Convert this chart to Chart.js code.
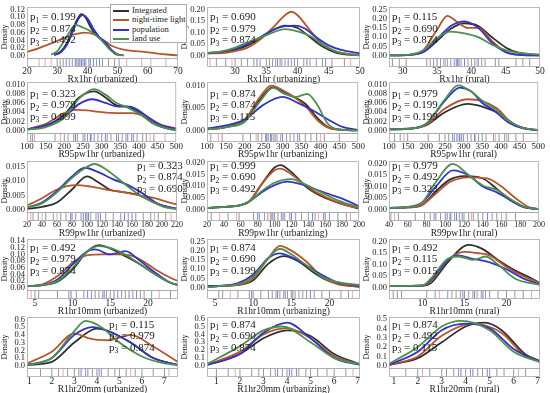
<!DOCTYPE html>
<html><head><meta charset="utf-8">
<script src="https://cdn.jsdelivr.net/npm/chart.js@4.4.1/dist/chart.umd.min.js"></script>
<style>
html,body{margin:0;padding:0;background:#fff;overflow:hidden;width:550px;height:393px;}
#wrap{position:relative;width:550px;height:393px;overflow:hidden;}
#wrap canvas{position:absolute;}
#legend{position:absolute;left:110px;top:4px;width:77px;height:39px;border:1px solid #aaa;background:#fff;z-index:10;font-family:"Liberation Serif",serif;font-size:8.6px;color:#222;box-sizing:border-box;}
#legend .it{position:absolute;left:2px;height:9px;line-height:9px;white-space:nowrap;}
#legend .ln{display:inline-block;width:16px;height:0;border-top:2px solid #000;vertical-align:middle;margin-right:3px;}
</style></head><body><div id="wrap"><div id="legend"></div></div>
<script>
// ---------- series / legend ----------
const SERIES = ['Integrated','night-time light','population','land use'];
const COLORS = ['#2f2f2f','#b4562f','#3434c4','#4f8f4f'];
const RUG_COLORS = ['rgba(105,105,120,0.7)','rgba(70,90,200,0.75)','rgba(235,130,150,0.75)'];

// ---------- axis titles ----------
const xTitles = [
 'Rx1hr (urbanized)','Rx1hr (urbanizing)','Rx1hr (rural)',
 'R95pw1hr (urbanized)','R95pw1hr (urbanizing)','R95pw1hr (rural)',
 'R99pw1hr (urbanized)','R99pw1hr (urbanizing)','R99pw1hr (rural)',
 'R1hr10mm (urbanized)','R1hr10mm (urbanizing)','R1hr10mm (rural)',
 'R1hr20mm (urbanized)','R1hr20mm (urbanizing)','R1hr20mm (rural)'];
// ---------- p values ----------
const pValues = [
 ['0.199','0.874','0.492'],['0.690','0.979','0.874'],['0.115','0.690','0.874'],
 ['0.323','0.979','0.999'],['0.874','0.874','0.115'],['0.979','0.199','0.199'],
 ['0.323','0.874','0.690'],['0.999','0.690','0.492'],['0.979','0.492','0.323'],
 ['0.492','0.979','0.874'],['0.874','0.690','0.199'],['0.492','0.115','0.015'],
 ['0.115','0.979','0.874'],['0.874','0.690','0.874'],['0.874','0.492','0.115']];
// ---------- x ranges / tick steps ----------
const xRanges = [[20,70],[25.5,50],[28,50],[100,500],[100,500],[100,500],[20,220],[20,200],[40,200],[3.95,24],[3.95,24],[6,24],[0.9,7.6],[0.6,7.1],[0.8,7.1]];
const xSteps  = [10,5,5,50,50,50,20,20,20,5,5,5,1,1,1];
// ---------- y tick ranges ----------
const yMaxes  = [0.126,0.21,0.262,0.0105,0.0108,0.0105,0.0168,0.0207,0.021,0.146,0.262,0.21,0.63,0.62,0.52];
const ySteps  = [0.02,0.05,0.05,0.002,0.005,0.002,0.005,0.005,0.005,0.02,0.05,0.05,0.1,0.1,0.1];
const yDec    = [2,2,2,3,3,3,3,3,3,2,2,2,1,1,1];

// ---------- density curves [x, density] ----------
// Rx1hr urbanized
const d11_int=[[29,0.002],[31,0.01],[33,0.03],[35,0.065],[36.5,0.092],[38,0.108],[39.5,0.098],[41,0.075],[43,0.052],[45,0.04],[47,0.022],[49,0.006],[51,0.001]];
const d11_ntl=[[20,0.01],[24,0.02],[28,0.032],[32,0.045],[36,0.056],[39,0.06],[42,0.056],[45,0.042],[48,0.026],[52,0.016],[56,0.012],[60,0.009],[65,0.004],[70,0.001]];
const d11_pop=[[29,0.002],[31,0.008],[33,0.025],[35,0.06],[37,0.095],[38.5,0.105],[40,0.097],[42,0.07],[44,0.048],[46,0.035],[48,0.015],[50,0.004],[52,0.001]];
const d11_lu =[[28,0.003],[30,0.012],[32,0.035],[34,0.06],[36,0.08],[38,0.075],[40,0.068],[42,0.058],[44,0.045],[46,0.028],[48,0.012],[50,0.003],[52,0.001]];
// Rx1hr urbanizing
const d12_int=[[25.5,0.01],[28,0.015],[30,0.025],[32,0.045],[34,0.075],[36,0.11],[38,0.13],[40,0.12],[42,0.08],[44,0.04],[46,0.015],[48,0.005],[50,0.002]];
const d12_ntl=[[25.5,0.01],[28,0.012],[30,0.02],[32,0.035],[34,0.07],[36,0.12],[38,0.175],[39,0.19],[40,0.175],[42,0.11],[44,0.05],[46,0.02],[48,0.008],[50,0.003]];
const d12_pop=[[25.5,0.012],[28,0.018],[30,0.03],[32,0.05],[34,0.08],[36,0.11],[38,0.128],[39.5,0.13],[41,0.12],[43,0.08],[45,0.045],[47,0.025],[50,0.01]];
const d12_lu =[[25.5,0.012],[28,0.02],[30,0.035],[32,0.058],[34,0.078],[36,0.1],[38,0.115],[40,0.105],[42,0.085],[44,0.05],[46,0.02],[48,0.008],[50,0.003]];
// Rx1hr rural
const d13_int=[[28,0.002],[31,0.005],[33,0.02],[35,0.08],[37,0.145],[39,0.175],[41,0.16],[43,0.1],[45,0.045],[47,0.015],[50,0.003]];
const d13_ntl=[[28,0.002],[31,0.005],[33,0.03],[35,0.14],[36.5,0.215],[38,0.18],[39.5,0.15],[41,0.15],[43,0.08],[45,0.02],[47,0.005],[50,0.001]];
const d13_pop=[[28,0.002],[31,0.005],[33,0.02],[35,0.09],[37,0.16],[39,0.185],[41,0.15],[43,0.07],[45,0.02],[47,0.005],[50,0.002]];
const d13_lu =[[28,0.003],[31,0.006],[33,0.03],[35,0.095],[37,0.13],[39,0.12],[41,0.1],[43,0.06],[45,0.03],[47,0.015],[50,0.006]];
// R95pw1hr urbanized
const d21_int=[[100,0.0003],[150,0.001],[200,0.0035],[240,0.0072],[280,0.0085],[310,0.0072],[340,0.0055],[370,0.0052],[400,0.004],[440,0.0015],[480,0.0004],[500,0.0002]];
const d21_ntl=[[100,0.0003],[150,0.0015],[200,0.0038],[230,0.0045],[260,0.0044],[300,0.004],[340,0.0038],[380,0.0038],[420,0.003],[460,0.0013],[500,0.0005]];
const d21_pop=[[100,0.0003],[150,0.0012],[200,0.003],[240,0.0058],[275,0.0068],[310,0.006],[345,0.0052],[375,0.0052],[410,0.0038],[450,0.0015],[500,0.0004]];
const d21_lu =[[100,0.0002],[150,0.0008],[200,0.0028],[240,0.007],[280,0.009],[310,0.0078],[340,0.006],[370,0.005],[400,0.0037],[440,0.0015],[480,0.0004],[500,0.0002]];
// R95pw1hr urbanizing
const d22_int=[[100,0.0003],[150,0.0008],[200,0.0025],[240,0.007],[275,0.0097],[300,0.0088],[330,0.0075],[360,0.006],[390,0.003],[420,0.0008],[460,0.0002],[500,0.0001]];
const d22_ntl=[[100,0.0003],[150,0.0008],[200,0.0025],[240,0.0075],[270,0.01],[300,0.009],[330,0.0075],[360,0.0055],[390,0.0025],[420,0.0007],[460,0.0002],[500,0.0001]];
const d22_pop=[[100,0.0005],[150,0.0012],[200,0.0025],[250,0.0058],[300,0.0075],[340,0.0062],[380,0.0045],[420,0.0025],[460,0.0008],[500,0.0002]];
const d22_lu =[[100,0.0003],[150,0.0008],[200,0.002],[240,0.0065],[275,0.0095],[305,0.0082],[335,0.0075],[365,0.0082],[390,0.006],[420,0.0015],[460,0.0002],[500,0.0001]];
// R95pw1hr rural
const d23_int=[[100,0.0003],[150,0.0004],[200,0.0012],[250,0.004],[310,0.0058],[350,0.0052],[400,0.0035],[440,0.0012],[480,0.0003],[500,0.0001]];
const d23_ntl=[[100,0.0003],[150,0.0005],[200,0.0013],[250,0.0048],[310,0.0068],[350,0.0064],[390,0.0048],[430,0.0016],[470,0.0004],[500,0.0001]];
const d23_pop=[[100,0.0003],[150,0.0004],[200,0.0015],[250,0.0065],[290,0.0093],[320,0.0085],[350,0.006],[380,0.0045],[420,0.0018],[460,0.0005],[500,0.0002]];
const d23_lu =[[100,0.0003],[150,0.0004],[200,0.0015],[250,0.0068],[285,0.0098],[320,0.0085],[350,0.0065],[380,0.005],[420,0.0022],[460,0.0006],[500,0.0002]];
// R99pw1hr urbanized
const d31_int=[[20,0.0003],[40,0.001],[60,0.0025],[80,0.007],[100,0.0115],[115,0.0095],[130,0.007],[150,0.006],[170,0.005],[190,0.0025],[210,0.0008],[220,0.0004]];
const d31_ntl=[[20,0.0015],[40,0.004],[60,0.007],[85,0.0085],[105,0.008],[130,0.0068],[150,0.006],[170,0.005],[190,0.004],[210,0.0025],[220,0.0018]];
const d31_pop=[[20,0.0008],[40,0.0025],[60,0.0065],[80,0.0115],[97,0.0145],[115,0.013],[135,0.0105],[155,0.0085],[175,0.0055],[195,0.002],[220,0.0004]];
const d31_lu =[[20,0.0008],[40,0.0022],[60,0.006],[80,0.011],[95,0.014],[110,0.0158],[125,0.014],[145,0.01],[165,0.006],[185,0.003],[205,0.0008],[220,0.0003]];
// R99pw1hr urbanizing
const d32_int=[[20,0.0008],[40,0.0012],[60,0.002],[70,0.0035],[85,0.011],[100,0.018],[107,0.019],[120,0.016],[140,0.009],[160,0.005],[180,0.0025],[200,0.0005]];
const d32_ntl=[[20,0.0008],[40,0.0012],[60,0.002],[70,0.0035],[85,0.011],[100,0.0168],[107,0.0175],[120,0.015],[140,0.0095],[160,0.0055],[180,0.0025],[200,0.0006]];
const d32_pop=[[20,0.0008],[40,0.0012],[60,0.002],[70,0.0035],[85,0.0075],[100,0.0105],[115,0.012],[130,0.011],[150,0.0085],[170,0.006],[185,0.004],[200,0.0015]];
const d32_lu =[[20,0.0008],[40,0.0012],[60,0.002],[70,0.0035],[85,0.008],[100,0.0115],[120,0.013],[135,0.011],[155,0.0075],[175,0.004],[200,0.001]];
// R99pw1hr rural
const d33_int=[[40,0.0008],[60,0.001],[75,0.002],[90,0.008],[105,0.013],[120,0.0145],[140,0.0135],[155,0.009],[170,0.004],[185,0.001],[200,0.0003]];
const d33_ntl=[[40,0.0008],[60,0.001],[75,0.002],[90,0.007],[105,0.012],[125,0.014],[145,0.0135],[160,0.01],[175,0.005],[190,0.001],[200,0.0003]];
const d33_pop=[[40,0.0008],[60,0.0012],[75,0.003],[90,0.01],[108,0.017],[125,0.0148],[140,0.01],[155,0.0075],[170,0.004],[185,0.001],[200,0.0003]];
const d33_lu =[[40,0.0008],[60,0.0012],[75,0.003],[90,0.012],[108,0.0198],[125,0.015],[140,0.0105],[155,0.0085],[170,0.0045],[185,0.0012],[200,0.0003]];
// R1hr10mm urbanized
const d41_int=[[4,0.005],[6,0.008],[8,0.018],[10,0.055],[12,0.11],[13.5,0.128],[15,0.118],[17,0.095],[19,0.07],[21,0.04],[23,0.015],[24,0.008]];
const d41_ntl=[[4,0.005],[6,0.01],[8,0.035],[10,0.075],[12,0.098],[14,0.1],[16,0.1],[17.5,0.098],[19,0.085],[21,0.055],[23,0.03],[24,0.02]];
const d41_pop=[[4,0.005],[6,0.008],[8,0.025],[10,0.07],[12,0.11],[13,0.115],[15,0.1],[17,0.11],[19,0.08],[21,0.045],[23,0.015],[24,0.008]];
const d41_lu =[[4,0.005],[6,0.008],[8,0.02],[10,0.06],[12,0.11],[13.5,0.125],[15,0.12],[17,0.1],[19,0.07],[21,0.04],[23,0.015],[24,0.008]];
// R1hr10mm urbanizing
const d42_int=[[4,0.005],[6,0.01],[8,0.015],[10,0.04],[12,0.13],[14,0.17],[16,0.14],[18,0.08],[20,0.035],[22,0.015],[24,0.005]];
const d42_ntl=[[4,0.005],[6,0.01],[8,0.015],[10,0.05],[12,0.16],[13.5,0.225],[15,0.2],[17,0.14],[19,0.06],[21,0.02],[24,0.005]];
const d42_pop=[[4,0.01],[6,0.012],[8,0.025],[10,0.07],[12,0.16],[13.5,0.185],[15,0.165],[17,0.12],[19,0.07],[21,0.03],[24,0.008]];
const d42_lu =[[4,0.005],[6,0.01],[8,0.02],[10,0.06],[12,0.16],[13.5,0.21],[15,0.18],[17,0.12],[19,0.06],[21,0.03],[24,0.015]];
// R1hr10mm rural
const d43_int=[[6,0.008],[8,0.008],[10,0.008],[11,0.02],[13,0.11],[15.5,0.185],[17,0.17],[19,0.12],[21,0.075],[23,0.04],[24,0.02]];
const d43_ntl=[[6,0.008],[8,0.008],[10,0.01],[11,0.03],[13,0.12],[15,0.155],[16.5,0.15],[18,0.14],[20,0.09],[22,0.05],[24,0.02]];
const d43_pop=[[6,0.008],[8,0.008],[10,0.01],[11,0.035],[13,0.12],[14.2,0.14],[16,0.125],[18,0.11],[20,0.08],[22,0.04],[24,0.015]];
const d43_lu =[[6,0.008],[8,0.008],[10,0.01],[11,0.04],[13,0.125],[14.3,0.135],[16,0.12],[17.5,0.135],[19,0.1],[21,0.04],[24,0.012]];
// R1hr20mm urbanized
const d51_int=[[0.9,0.01],[2,0.05],[3,0.3],[4,0.48],[4.5,0.45],[5.5,0.3],[6.5,0.1],[7.6,0.01]];
const d51_ntl=[[0.9,0.03],[2,0.18],[3,0.42],[3.7,0.35],[4.5,0.33],[5.5,0.4],[6.5,0.25],[7.6,0.05]];
const d51_pop=[[0.9,0.01],[2,0.1],[3,0.4],[3.8,0.5],[4.5,0.45],[5.5,0.3],[6.5,0.1],[7.6,0.01]];
const d51_lu =[[0.9,0.01],[2,0.1],[3,0.45],[3.5,0.58],[4.2,0.5],[5,0.3],[6,0.12],[7,0.03],[7.6,0.01]];
// R1hr20mm urbanizing
const d52_int=[[0.6,0.01],[2,0.15],[3,0.35],[4,0.45],[5,0.38],[6,0.15],[7.1,0.02]];
const d52_ntl=[[0.6,0.01],[2,0.18],[3,0.4],[4,0.48],[5,0.35],[6,0.12],[7.1,0.02]];
const d52_pop=[[0.6,0.01],[2,0.15],[3,0.42],[4,0.55],[5,0.35],[6,0.1],[7.1,0.01]];
const d52_lu =[[0.6,0.02],[2,0.25],[3,0.45],[3.8,0.5],[5,0.3],[6,0.1],[7.1,0.02]];
// R1hr20mm rural
const d53_int=[[0.8,0.01],[2,0.08],[3,0.25],[4,0.42],[4.8,0.46],[5.5,0.38],[6.5,0.12],[7.1,0.05]];
const d53_ntl=[[0.8,0.01],[2,0.1],[3,0.32],[4.3,0.45],[5.5,0.35],[6.5,0.1],[7.1,0.04]];
const d53_pop=[[0.8,0.01],[2,0.15],[3,0.38],[4,0.45],[5,0.4],[6,0.18],[7.1,0.04]];
const d53_lu =[[0.8,0.02],[2,0.2],[3,0.42],[3.8,0.48],[5,0.38],[6,0.15],[7.1,0.04]];

// ---------- rug observations (gray / blue / pink ticks) ----------
const r11_g=[30,31,32,34,35,36.5,37,38.5,39.5,41,43,45,47,49,50.5], r11_b=[33,36,37.5,38,39,40.5,42,44], r11_p=[24,26,28,53,58,61,66];
const r12_g=[27,28.5,30,31,32,33,34,35,35.5,36,36.5,37.5,38,39,40,41,42,43,44,45.5,47.5], r12_b=[33.5,36.8,37.2,38.5,39.5,41.5,44.5], r12_p=[26,29.5,48.5];
const r13_g=[28.5,29.5,30.5,33.5,34,34.5,35.5,36,36.5,37,37.5,38.5,39.5,40,40.5,41.5,42,43.5,44,46.5,47.5,48.5], r13_b=[35,37.8,38,38.2,39,41], r13_p=[36.2,40.8];
const r21_g=[110,115,175,200,210,225,235,250,262,272,290,300,315,325,340,355,365,380,395,410,420,440], r21_b=[230,255,270,280,310,345,370,385], r21_p=[120,190,430,470];
const r22_g=[110,140,195,215,235,245,255,262,268,275,285,295,310,320,330,345,360,375,390,410,450], r22_b=[258,270,280,300,340], r22_p=[130,230,400];
const r23_g=[115,130,150,205,235,250,260,270,290,300,310,320,330,340,350,360,380,395,410,420,440,460], r23_b=[275,282,288,295,330], r23_p=[140,385,415];
const r31_g=[28,35,45,55,65,72,78,85,92,98,105,112,118,125,135,145,155,165,175,185,195,205], r31_b=[80,95,100,102,115,150,160], r31_p=[25,40,60,190,212];
const r32_g=[25,45,58,75,82,88,92,96,100,104,108,112,118,125,132,140,148,158,165,175,185], r32_b=[80,98,110,120,145,160], r32_p=[35,55,95,152,190];
const r33_g=[42,50,68,78,84,88,95,100,105,110,115,120,125,130,135,140,150,155,165,175], r33_b=[90,102,106,112,118,145], r33_p=[46,128,160];
const r41_g=[5,5.5,8,9.5,10.5,11.5,12.5,13,13.5,14,14.5,15,16,16.5,17,18,19,19.5,20.5,23], r41_b=[9.8,12,14.2,15.5,17.5,18.5], r41_p=[4.5,21.5];
const r42_g=[5.5,6,8,9.5,10,11,12,12.5,13,13.5,14,14.5,15,15.5,16,16.5,17,18,19,20,21.5,22.5], r42_b=[9.8,13.2,14.2,15.2,17.5], r42_p=[7,23];
const r43_g=[6.5,7,7.5,10.5,11.5,13,13.5,14,14.5,15,15.5,16,16.5,17,17.5,18,19,20,21,22], r43_b=[14.8,16.2,17.2], r43_p=[12,23];
const r51_g=[1.5,2,2.3,2.7,3,3.2,3.5,3.8,4,4.2,4.5,4.8,5,5.3,5.7,6,6.5,7], r51_b=[3.3,3.6,4.1], r51_p=[2.5,5.5,7.2];
const r52_g=[1,1.5,2,2.5,2.8,3,3.3,3.5,3.8,4,4.2,4.5,4.8,5,5.3,5.7,6,6.5], r52_b=[3.6,4.1,4.4], r52_p=[1.8,6.8];
const r53_g=[1.5,2,2.5,3,3.2,3.5,3.7,4,4.2,4.5,4.7,5,5.3,5.6,6,6.5], r53_b=[3.8,4.3,4.9], r53_p=[2.2,6.2];

const curveSets=[
 [d11_int,d11_ntl,d11_pop,d11_lu],[d12_int,d12_ntl,d12_pop,d12_lu],[d13_int,d13_ntl,d13_pop,d13_lu],
 [d21_int,d21_ntl,d21_pop,d21_lu],[d22_int,d22_ntl,d22_pop,d22_lu],[d23_int,d23_ntl,d23_pop,d23_lu],
 [d31_int,d31_ntl,d31_pop,d31_lu],[d32_int,d32_ntl,d32_pop,d32_lu],[d33_int,d33_ntl,d33_pop,d33_lu],
 [d41_int,d41_ntl,d41_pop,d41_lu],[d42_int,d42_ntl,d42_pop,d42_lu],[d43_int,d43_ntl,d43_pop,d43_lu],
 [d51_int,d51_ntl,d51_pop,d51_lu],[d52_int,d52_ntl,d52_pop,d52_lu],[d53_int,d53_ntl,d53_pop,d53_lu]];
const rugSets=[
 [r11_g,r11_b,r11_p],[r12_g,r12_b,r12_p],[r13_g,r13_b,r13_p],
 [r21_g,r21_b,r21_p],[r22_g,r22_b,r22_p],[r23_g,r23_b,r23_p],
 [r31_g,r31_b,r31_p],[r32_g,r32_b,r32_p],[r33_g,r33_b,r33_p],
 [r41_g,r41_b,r41_p],[r42_g,r42_b,r42_p],[r43_g,r43_b,r43_p],
 [r51_g,r51_b,r51_p],[r52_g,r52_b,r52_p],[r53_g,r53_b,r53_p]];

// ---------- layout ----------
const colLeft=[0,180,362], colW=[183,185,183];
const rowTop=[0,75,154,232,310];
const pTop=[10.5,12,5,9,8];
const pX=[3,3,3,3,3,3,110,3,3,3,3,3,82,3,3];
const xTickSize=[9.5,9,8,9.5,9.5];
const FONT='"Liberation Serif","Times New Roman",serif';
const DENS_PX=54, RUG_PX=9;
const wrap=document.getElementById('wrap');

const framePlugin={id:'frame',afterDraw(chart,args,opts){
  const {ctx}=chart, a=chart.chartArea, y=chart.scales.y;
  const mid=Math.round(y.getPixelForValue(opts.split))+0.5;
  ctx.save(); ctx.strokeStyle='#a8a8a8'; ctx.lineWidth=0.8;
  ctx.strokeRect(a.left+0.5,y.top+0.5,a.right-a.left-1,mid-y.top-0.5);
  ctx.strokeRect(a.left+0.5,mid,a.right-a.left-1,y.bottom-mid-0.5);
  ctx.restore();
}};
const pPlugin={id:'ptext',afterDatasetsDraw(chart,args,opts){
  const {ctx}=chart, a=chart.chartArea, ys=chart.scales.y;
  ctx.save(); ctx.fillStyle='#1a1a1a'; ctx.textBaseline='middle';
  opts.vals.forEach((v,i)=>{
    let x=a.left+opts.dx; const yy=ys.top+opts.top+i*11.5;
    ctx.font='11px '+FONT; ctx.fillText('p',x,yy); x+=ctx.measureText('p').width;
    ctx.font='7.5px '+FONT; ctx.fillText(String(i+1),x,yy+3); x+=ctx.measureText(String(i+1)).width;
    ctx.font='11px '+FONT; ctx.fillText(' = '+v,x,yy);
  });
  ctx.restore();
}};

function fmtX(v){return String(Math.round(v*1000)/1000);}

for(let i=0;i<15;i++){
  const r=Math.floor(i/3), c=i%3;
  const cv=document.createElement('canvas');
  cv.width=colW[c]; cv.height=85;
  cv.style.left=colLeft[c]+'px'; cv.style.top=rowTop[r]+'px';
  wrap.appendChild(cv);
  const ym=yMaxes[i], dec=yDec[i];
  const split=-0.055*ym;                       // bottom of density panel
  const ymin=ym-(ym-split)*(DENS_PX+RUG_PX)/DENS_PX; // bottom of rug strip
  const rugY=(split+ymin)/2;
  const datasets=[];
  curveSets[i].forEach((d,k)=>datasets.push({type:'line',label:SERIES[k],data:d,borderColor:COLORS[k],borderWidth:1.8,pointRadius:0,cubicInterpolationMode:'monotone',fill:false,order:4-k}));
  rugSets[i].forEach((arr,k)=>datasets.push({type:'scatter',data:arr.map(x=>({x:x,y:rugY})),pointStyle:'line',pointRotation:90,pointRadius:4,pointBorderColor:RUG_COLORS[k],borderColor:RUG_COLORS[k],pointBorderWidth:1,borderWidth:1,showLine:false,order:10}));
  new Chart(cv,{
    type:'line',
    data:{datasets},
    options:{
      responsive:false,animation:false,devicePixelRatio:1,
      layout:{padding:{top:3,right:3,left:0,bottom:0}},
      plugins:{legend:{display:false},tooltip:{enabled:false},ptext:{vals:pValues[i],dx:pX[i],top:pTop[r]},frame:{split:split}},
      scales:{
        x:{type:'linear',min:xRanges[i][0],max:xRanges[i][1],afterFit(s){s.height=18;},
           ticks:{stepSize:xSteps[i],includeBounds:false,autoSkip:false,maxRotation:0,padding:0,font:{family:FONT,size:xTickSize[r],lineHeight:1},color:'#222',callback:v=>fmtX(v)},
           grid:{display:false,drawTicks:false},border:{display:false},
           title:{display:true,text:xTitles[i],font:{family:FONT,size:9.5,lineHeight:1.1},color:'#222',padding:{top:0,bottom:0}}},
        y:{type:'linear',min:ymin,max:ym,afterFit(s){s.width=27;},
           ticks:{stepSize:ySteps[i],includeBounds:false,autoSkip:false,padding:2,font:{family:FONT,size:8.5},color:'#222',callback:v=>(v<-1e-9?null:Math.abs(v).toFixed(dec))},
           grid:{display:false,drawTicks:false},border:{display:false},
           title:{display:true,text:'Density',font:{family:FONT,size:8},color:'#222',padding:{top:0,bottom:0}}}
      }
    },
    plugins:[framePlugin,pPlugin]
  });
}

// ---------- legend ----------
const lg=document.getElementById('legend');
SERIES.forEach((s,k)=>{
  const d=document.createElement('div'); d.className='it'; d.style.top=(1+k*9.3)+'px';
  d.innerHTML='<span class="ln" style="border-top-color:'+COLORS[k]+'"></span>'+s;
  lg.appendChild(d);
});
</script>
</body></html>
